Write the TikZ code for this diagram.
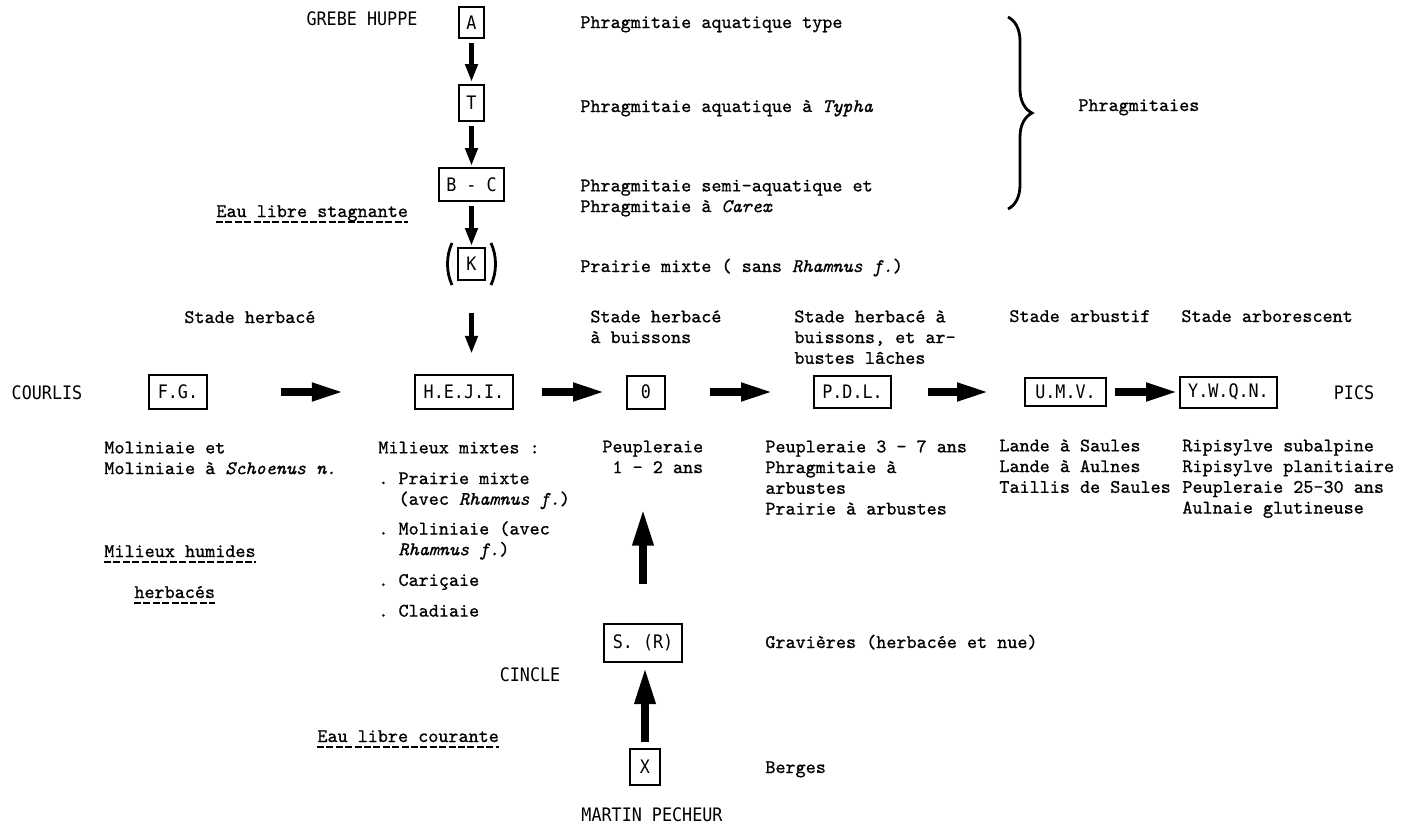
\documentclass[tikz,border=0pt]{standalone}
\usepackage{fontspec}
\usetikzlibrary{arrows.meta,decorations.pathreplacing}
\setmonofont{lmmono10-regular.otf}[ItalicFont=lmmono10-italic.otf, FakeBold=0.8]
\newfontfamily\labfam{DejaVu Sans Mono}[FakeStretch=0.9]
\newcommand\twf{\ttfamily\fontsize{9.6pt}{10.35pt}\selectfont}
\newcommand\lbf{\labfam\fontsize{9.3pt}{10pt}\selectfont}
\newcommand\mystrut{\rule{0pt}{7.5pt}}
\frenchspacing
\begin{document}
\begin{tikzpicture}[x=0.5pt,y=-0.5pt,
  box/.style={draw, line width=1pt, inner sep=0pt, font=\lbf},
  lab/.style={font=\lbf, inner sep=0pt},
  txt/.style={font=\twf, inner sep=0pt, anchor=base west},
  mtxt/.style={font=\twf, inner sep=0pt, anchor=north west, align=left},
  uline/.style={line width=0.6pt, dash pattern=on 3.5pt off 1.2pt},
  varr/.style={line width=2.4pt, -{Triangle[length=9pt,width=6pt]}},
  harr/.style={line width=3.6pt, -{Triangle[length=16pt,width=8.5pt]}},
  uarr/.style={line width=4.3pt, -{Triangle[length=19pt,width=9.5pt]}}]
\useasboundingbox (0,0) rectangle (1404,827);

% top vertical chain
\node[box, minimum width=12.5pt, minimum height=15.5pt] (A) at (471.5,22.5) {A};
\node[box, minimum width=12.5pt, minimum height=18pt] (T) at (471.5,103) {T};
\node[box, minimum width=32.5pt, minimum height=16.5pt] (BC) at (471.5,184.5) {B - C};
\node[box, minimum width=13.5pt, minimum height=16pt] (K) at (471.5,264) {K};
\draw[line width=1.4pt] (452,243) .. controls (446,256) and (446,272) .. (452,285);
\draw[line width=1.4pt] (491,243) .. controls (497,256) and (497,272) .. (491,285);

\node[lab] (grebe) at (362,19) {GREBE HUPPE};

\node[txt] (t1) at (580,28) {Phragmitaie aquatique type};
\node[txt] (t2) at (580,112) {Phragmitaie aquatique à \textit{Typha}};
\node[mtxt] (t3) at (580,176) {\mystrut Phragmitaie semi-aquatique et\\Phragmitaie à \textit{Carex}};
\node[txt] (t4) at (580,272) {Prairie mixte ( sans \textit{Rhamnus f.})};

\draw[decorate, decoration={brace, amplitude=12pt}, line width=1.4pt] (1008,17) -- (1008,209);
\node[txt] (phr) at (1078,111) {Phragmitaies};

\node[txt] (eaus) at (216,217) {Eau libre stagnante};
\draw[uline] ([yshift=-2.5pt]eaus.base west) -- ([yshift=-2.5pt]eaus.base east);

% stage headings
\node[txt] (s1) at (184,323) {Stade herbacé};
\node[mtxt] (s2) at (590,307) {\mystrut Stade herbacé\\à buissons};
\node[mtxt] (s3) at (794,307) {\mystrut Stade herbacé à\\buissons, et ar-\\bustes lâches};
\node[txt] (s4) at (1009,322) {Stade arbustif};
\node[txt] (s5) at (1181,322) {Stade arborescent};

% main row
\node[lab] (courlis) at (47,393) {COURLIS};
\node[box, minimum width=29pt, minimum height=17pt] (FG) at (178,392) {F.G.};
\node[box, line width=1.2pt, minimum width=49pt, minimum height=17pt] (HEJI) at (464,392) {H.E.J.I.};
\node[box, minimum width=19pt, minimum height=16.5pt] (O) at (646,392) {0};
\node[box, minimum width=38.5pt, minimum height=16pt] (PDL) at (852.5,392) {P.D.L.};
\node[box, minimum width=40.5pt, minimum height=14pt] (UMV) at (1065.5,392) {U.M.V.};
\node[box, minimum width=48.5pt, minimum height=15.5pt] (YWQN) at (1228.5,392) {Y.W.Q.N.};
\node[lab] (pics) at (1354,393) {PICS};

\draw[varr, shorten <=2pt, shorten >=1pt] (A) -- (T);
\draw[varr, shorten <=2pt, shorten >=0.5pt] (T) -- (BC);
\draw[varr, shorten <=2pt, shorten >=0.5pt] (BC) -- (K);
\draw[varr, shorten <=16pt, shorten >=10pt] (K.south) -- (K.south |- HEJI.north);

\draw[harr, shorten <=36.5pt, shorten >=35pt] (FG) -- (HEJI);
\draw[harr, shorten <=14pt, shorten >=10.5pt] (HEJI) -- (O);
\draw[harr, shorten <=22pt, shorten >=20pt] (O) -- (PDL);
\draw[harr, shorten <=18pt, shorten >=17.5pt] (PDL) -- (UMV);
\draw[harr, shorten <=4pt, shorten >=0.5pt] (UMV) -- (YWQN);

% lower texts
\node[mtxt] (mol) at (104,438) {\mystrut Moliniaie et\\Moliniaie à \textit{Schoenus n.}};
\node[mtxt] (mix) at (378,438) {\mystrut Milieux mixtes :\\[5pt]. Prairie mixte\\\phantom{. }(avec \textit{Rhamnus f.})\\[4.5pt]. Moliniaie (avec\\\phantom{. }\textit{Rhamnus f.})\\[5pt]. Cariçaie\\[5pt]. Cladiaie};
\node[mtxt] (peu1) at (602,437) {\mystrut Peupleraie\\\phantom{P}1 - 2 ans};
\node[mtxt] (peu2) at (765,437) {\mystrut Peupleraie 3 - 7 ans\\Phragmitaie à\\arbustes\\Prairie à arbustes};
\node[mtxt] (lan) at (999,436) {\mystrut Lande à Saules\\Lande à Aulnes\\Taillis de Saules};
\node[mtxt] (rip) at (1182,436) {\mystrut Ripisylve subalpine\\Ripisylve planitiaire\\Peupleraie 25-30 ans\\Aulnaie glutineuse};

\node[txt] (mh) at (104,557) {Milieux humides};
\draw[uline] ([yshift=-2.5pt]mh.base west) -- ([yshift=-2.5pt]mh.base east);
\node[txt] (hb) at (134,598) {herbacés};
\draw[uline] ([yshift=-2.5pt]hb.base west) -- ([yshift=-2.5pt]hb.base east);

% bottom chain
\node[box, minimum width=39pt, minimum height=19pt] (S) at (643,643) {S. (R)};
\node[box, minimum width=15pt, minimum height=18pt] (X) at (645,767) {X};
\node[lab] (cincle) at (530,675) {CINCLE};
\node[lab] (martin) at (652,815) {MARTIN PECHEUR};
\node[txt] (grav) at (765,648) {Gravières (herbacée et nue)};
\node[txt] (berg) at (765,773) {Berges};
\node[txt] (eauc) at (317,742) {Eau libre courante};
\draw[uline] ([yshift=-2.5pt]eauc.base west) -- ([yshift=-2.5pt]eauc.base east);

\draw[uarr, shorten <=3pt, shorten >=1.5pt] (X.north) -- (X.north |- S.south);
\draw[uarr, shorten <=19.5pt, shorten >=49pt] (S.north) -- (S.north |- O.south);
\end{tikzpicture}
\end{document}
